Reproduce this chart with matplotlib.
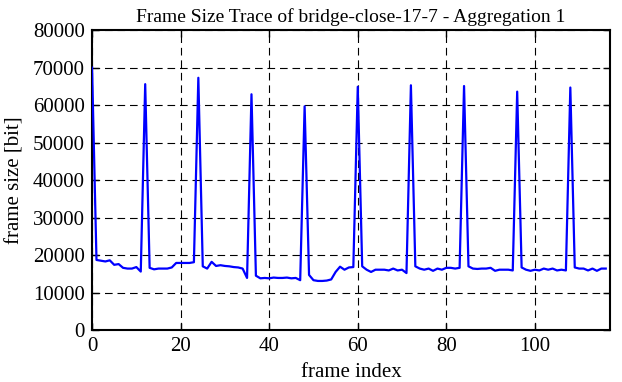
import matplotlib
matplotlib.use("Agg")
import matplotlib.pyplot as plt

# frame sizes in bit, frames 0..116
frame_size = [
    70000, 18700, 18500, 18300, 18600, 17400, 17600, 16600, 16400, 16400,
    16800, 15600, 65600, 16600, 16200, 16400, 16400, 16400, 16700, 17900,
    17900, 17900, 17900, 18100, 67300, 17000, 16400, 18200, 17100, 17300,
    17100, 17000, 16800, 16700, 16400, 13900, 62900, 14500, 13800, 13900,
    13800, 14000, 13900, 13900, 14000, 13800, 13900, 13300, 59700, 14700,
    13300, 13100, 13100, 13200, 13500, 15500, 16900, 16100, 16700, 16800,
    64900, 17000, 16100, 15500, 16100, 16100, 16100, 15900, 16400, 15900,
    16100, 15200, 65300, 17000, 16400, 16100, 16400, 15800, 16400, 16100,
    16600, 16600, 16400, 16600, 65100, 17000, 16400, 16300, 16400, 16400,
    16600, 15800, 16100, 16100, 16100, 15900, 63600, 16700, 16100, 15800,
    16100, 15900, 16400, 16100, 16400, 15900, 16100, 15900, 64700, 16700,
    16400, 16400, 15900, 16400, 15800, 16400, 16400,
]
frame_index = list(range(len(frame_size)))

x_ticks = [0, 20, 40, 60, 80, 100]
y_ticks = [0, 10000, 20000, 30000, 40000, 50000, 60000, 70000, 80000]

plt.rcParams['font.family'] = ['Liberation Serif', 'DejaVu Serif']
plt.rcParams['lines.scale_dashes'] = False

fig = plt.figure(figsize=(6.22, 3.82), dpi=100)
ax = fig.add_axes([0.148, 0.136, 0.833, 0.785])

ax.plot(frame_index, frame_size, color='#0000ff', linewidth=1.6, zorder=3)

ax.set_xlim(0, 117)
ax.set_ylim(0, 80000)
ax.set_xticks(x_ticks)
ax.set_yticks(y_ticks)
ax.grid(True, color='black', linestyle=(0, (5.5, 3.5)), linewidth=0.8)

ax.tick_params(direction='in', top=True, right=True, length=5, width=1,
               labelsize=15, pad=5)
for s in ax.spines.values():
    s.set_linewidth(1.5)

ax.set_xlabel("frame index", fontsize=15, labelpad=5)
ax.set_ylabel("frame size [bit]", fontsize=15, labelpad=6)
ax.set_title("Frame Size Trace of bridge-close-17-7 - Aggregation 1",
             fontsize=14, pad=6)

plt.savefig('out.png', dpi=100)
